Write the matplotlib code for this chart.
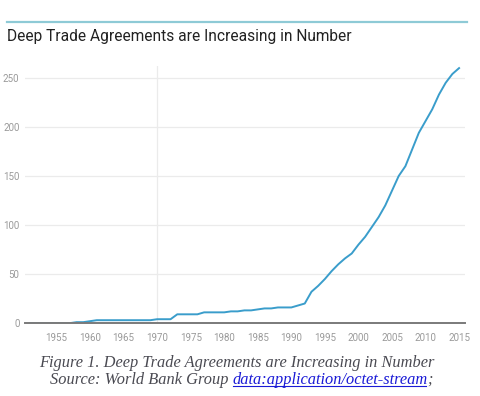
import matplotlib
matplotlib.use("Agg")
import matplotlib.pyplot as plt
from matplotlib.lines import Line2D

# cumulative number of deep trade agreements
years = list(range(1951, 2016))
agreements = [
    0, 0, 0, 0, 0, 0, 0, 1, 1, 2,          # 1951-1960
    3, 3, 3, 3, 3, 3, 3, 3, 3, 4,          # 1961-1970
    4, 4, 9, 9, 9, 9, 11, 11, 11, 11,      # 1971-1980
    12, 12, 13, 13, 14, 15, 15, 16, 16, 16,  # 1981-1990
    18, 20, 32, 38, 45, 53, 60, 66, 71, 80,  # 1991-2000
    88, 98, 108, 120, 135, 150, 160, 177, 194, 206,  # 2001-2010
    218, 233, 245, 254, 260,               # 2011-2015
]
x_ticks = [1955, 1960, 1965, 1970, 1975, 1980, 1985, 1990, 1995, 2000, 2005, 2010, 2015]
y_ticks = [0, 50, 100, 150, 200, 250]

title = "Deep Trade Agreements are Increasing in Number"
caption = "Figure 1. Deep Trade Agreements are Increasing in Number"
source_prefix = "Source: World Bank Group "
source_link = "data:application/octet-stream"

sans = "Roboto"
serif = "Liberation Serif"

fig = plt.figure(figsize=(4.8, 3.96), dpi=100)
ax = fig.add_axes([0.052, 0.184, 0.917, 0.649])

ax.plot(years, agreements, color="#3a9dcb", linewidth=1.4, solid_joinstyle="round")
ax.set_xlim(1950.3, 2015.9)
ax.set_ylim(0, 262)
ax.set_xticks(x_ticks)
ax.set_yticks(y_ticks)
ax.tick_params(length=0, labelsize=7, labelcolor="#9a9a9a")
ax.tick_params(axis="x", pad=7)
ax.tick_params(axis="y", pad=4)
for lab in ax.get_xticklabels() + ax.get_yticklabels():
    lab.set_fontfamily(sans)

for v in y_ticks[1:]:
    ax.axhline(v, color="#ebebeb", linewidth=0.9, zorder=0)
ax.axvline(1970, color="#ebebeb", linewidth=0.9, zorder=0)
for side in ("top", "right", "left"):
    ax.spines[side].set_visible(False)
ax.spines["bottom"].set_color("#7a7a7a")
ax.spines["bottom"].set_linewidth(1.4)

# header: teal rule and title
fig.add_artist(Line2D([7 / 480, 467 / 480], [1 - 22 / 396] * 2, color="#8ecad6", linewidth=1.6))
fig.text(7 / 480, 1 - 36 / 396, title, fontsize=11.2, fontfamily=sans, color="#222222", va="center")

# caption below the chart
fig.text(237 / 480, 1 - 363 / 396, caption, fontsize=11.8, fontfamily=serif,
         style="italic", color="#4a4a52", ha="center", va="center")
t1 = fig.text(50 / 480, 1 - 380 / 396, source_prefix, fontsize=11.8, fontfamily=serif,
              style="italic", color="#4a4a52", va="center")
fig.canvas.draw()
r = fig.canvas.get_renderer()
bb = t1.get_window_extent(r)
t2 = fig.text(bb.x1 / 480, 1 - 380 / 396, source_link, fontsize=11.8, fontfamily=serif,
              style="italic", color="#1a1ad6", va="center")
bb2 = t2.get_window_extent(r)
fig.add_artist(Line2D([bb2.x0 / 480, (bb2.x1 - 2) / 480], [(bb2.y0 + 2) / 396] * 2,
                      color="#1a1ad6", linewidth=0.8))
fig.text((bb2.x1 - 1) / 480, 1 - 380 / 396, ";", fontsize=11.8, fontfamily=serif,
         style="italic", color="#4a4a52", va="center")

fig.savefig("out.png", dpi=100, facecolor="white")
